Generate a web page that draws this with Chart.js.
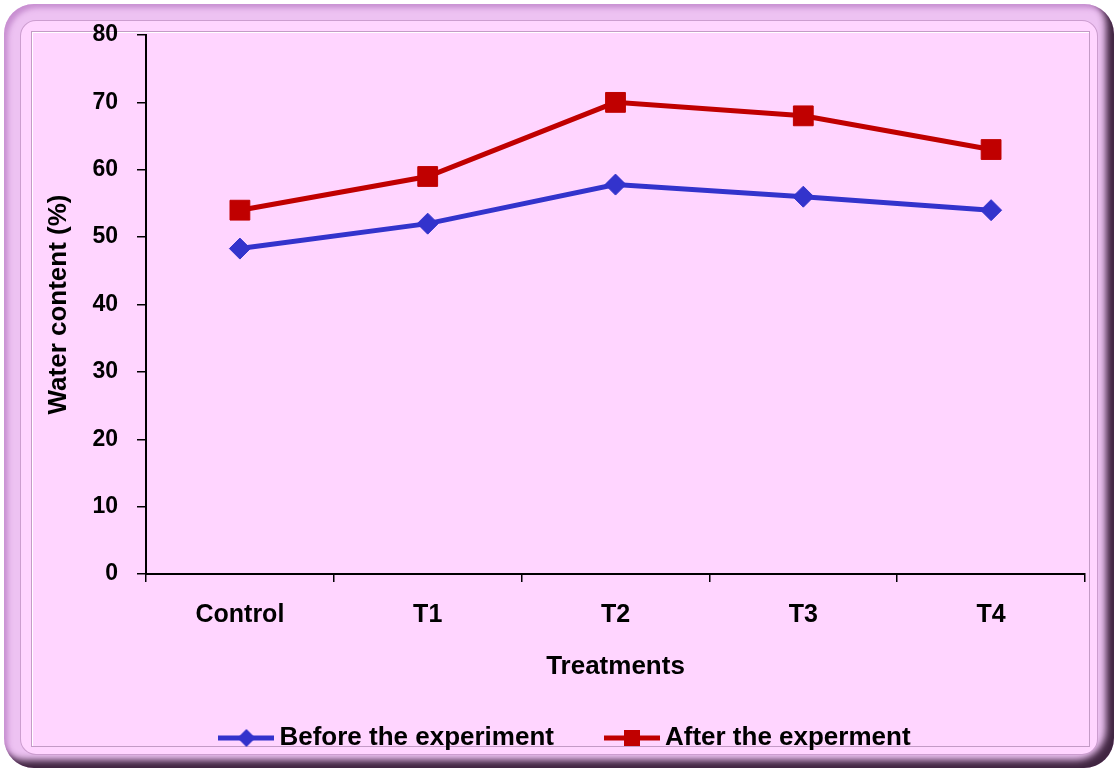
<!DOCTYPE html>
<html>
<head>
<meta charset="utf-8">
<script src="https://cdn.jsdelivr.net/npm/chart.js@4/dist/chart.umd.min.js"></script>
<style>
  html, body { margin: 0; padding: 0; background: #fff; }
  #wrap { position: relative; width: 1118px; height: 769px; overflow: hidden; }
  .bevel {
    position: absolute; left: 4px; top: 4px; width: 1110px; height: 764px;
    border-radius: 30px; background: #EDC2F2;
    box-shadow: inset -9px -9px 7px -1px rgba(45, 20, 45, .9),
                inset 4px 4px 5px rgba(190, 130, 200, .8);
  }
  .panel {
    position: absolute; left: 20px; top: 20px; width: 1076px; height: 733px;
    border-radius: 16px; background: #FFD5FF;
    border: 1px solid rgba(170, 120, 175, .6);
  }
  .plot {
    position: absolute; left: 31px; top: 31px; width: 1057px; height: 714px;
    border: 1px solid #C39BC6; box-shadow: inset 1px 1px 0 #fff;
  }
  canvas { position: absolute; left: 0; top: 0; }
</style>
</head>
<body>
<div id="wrap">
  <div class="bevel"></div>
  <div class="panel"></div>
  <div class="plot"></div>
  <canvas id="chart" width="1118" height="769"></canvas>
</div>
<script>
// water content per treatment, before / after
const treatments = ['Control', 'T1', 'T2', 'T3', 'T4'];
const beforeValues = [48.3, 52, 57.8, 56, 54];
const afterValues = [54, 59, 70, 68, 63];
const seriesNames = ['Before the experiment', 'After the experment'];

const BLUE = '#3333CC';
const RED = '#C00000';
const FONT = '"Liberation Sans", Arial, sans-serif';

// little line+marker icons for the legend
function legendIcon(color, marker) {
  const c = document.createElement('canvas');
  c.width = 56; c.height = 24;
  const g = c.getContext('2d');
  g.strokeStyle = color; g.fillStyle = color; g.lineWidth = 5;
  g.beginPath(); g.moveTo(0, 12); g.lineTo(56, 12); g.stroke();
  g.beginPath();
  if (marker === 'diamond') {
    g.moveTo(28, 3); g.lineTo(37, 12); g.lineTo(28, 21); g.lineTo(19, 12);
  } else {
    g.rect(20, 4, 16, 16);
  }
  g.closePath(); g.fill();
  return c;
}
const icons = [legendIcon(BLUE, 'diamond'), legendIcon(RED, 'square')];

new Chart(document.getElementById('chart').getContext('2d'), {
  type: 'line',
  data: {
    labels: treatments,
    datasets: [{
      label: seriesNames[0],
      data: beforeValues,
      borderColor: BLUE, backgroundColor: BLUE,
      borderWidth: 5,
      pointStyle: 'rectRot', pointRadius: 10.5, pointBorderWidth: 1,
      tension: 0
    }, {
      label: seriesNames[1],
      data: afterValues,
      borderColor: RED, backgroundColor: RED,
      borderWidth: 5,
      pointStyle: 'rect', pointRadius: 14, pointBorderWidth: 1,
      tension: 0
    }]
  },
  options: {
    responsive: false,
    animation: false,
    events: [],
    layout: { padding: { left: 52, right: 33, top: 35, bottom: 8 } },
    scales: {
      x: {
        offset: true,
        grid: { offset: true, drawOnChartArea: false, drawTicks: true, tickLength: 8, color: '#000', lineWidth: 1.5 },
        border: { color: '#000', width: 2 },
        ticks: { color: '#000', padding: 18, font: { family: FONT, size: 25, weight: 'bold' } },
        title: {
          display: true, text: 'Treatments', color: '#000',
          font: { family: FONT, size: 26, weight: 'bold' },
          padding: { top: 0, bottom: -15 }
        },
        afterFit: s => { s.height = 93; }
      },
      y: {
        min: 0, max: 80,
        grid: { drawOnChartArea: false, drawTicks: true, tickLength: 9, color: '#000', lineWidth: 1.5 },
        border: { color: '#000', width: 2 },
        ticks: { stepSize: 10, color: '#000', padding: 19, font: { family: FONT, size: 23, weight: 'bold' } },
        title: {
          display: true, text: 'Water content (%)', color: '#000',
          font: { family: FONT, size: 26, weight: 'bold', lineHeight: 1 },
          padding: { top: -6, bottom: 0 }
        },
        afterFit: s => { s.width = 94; }
      }
    },
    plugins: {
      tooltip: { enabled: false },
      legend: {
        position: 'bottom',
        labels: {
          usePointStyle: true,
          pointStyleWidth: 40,
          padding: 58,
          color: '#000',
          font: { family: FONT, size: 26, weight: 'bold' },
          generateLabels(chart) {
            const items = Chart.defaults.plugins.legend.labels.generateLabels(chart);
            items.forEach((it, i) => { it.pointStyle = icons[i]; });
            return items;
          }
        }
      }
    }
  }
});
</script>
</body>
</html>
